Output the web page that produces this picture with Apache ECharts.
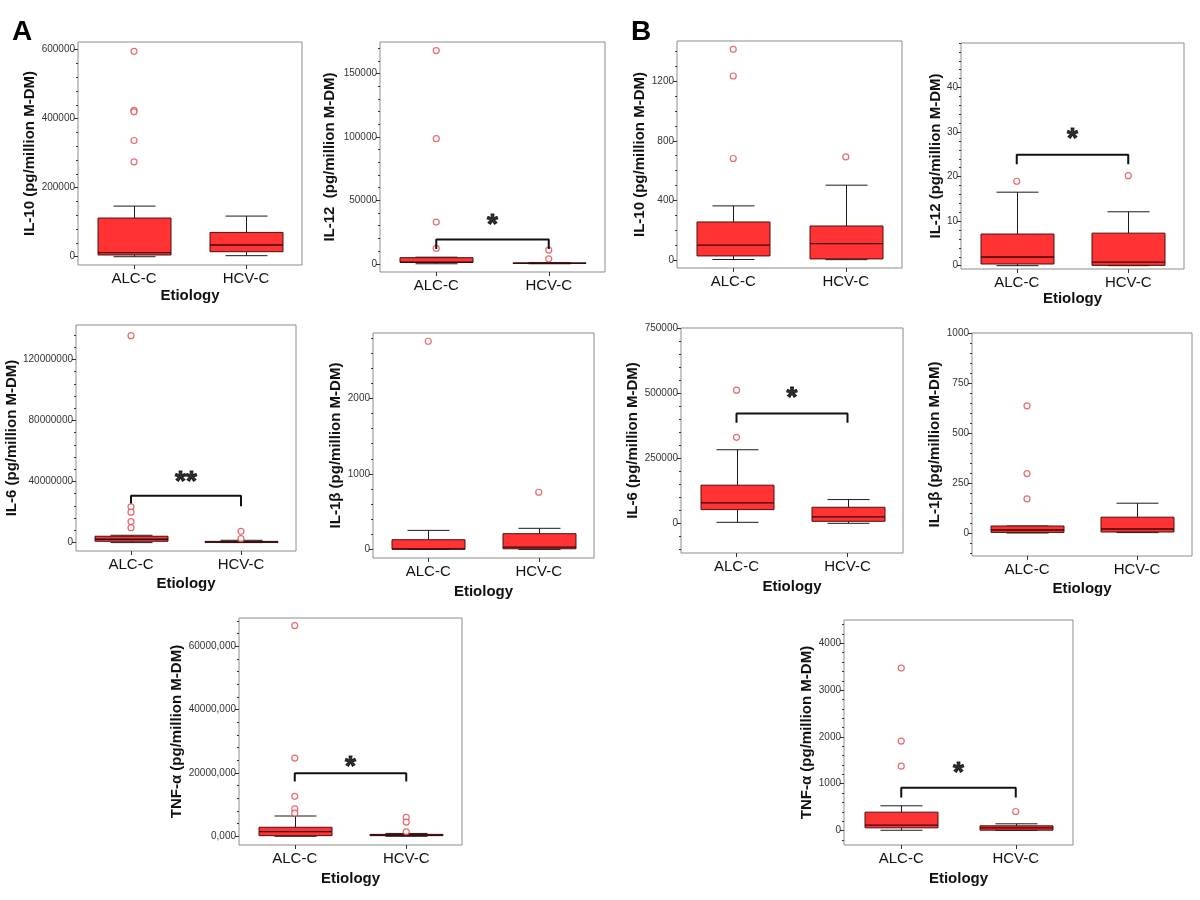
<!DOCTYPE html>
<html><head><meta charset="utf-8">
<script src="https://cdn.jsdelivr.net/npm/echarts@6/dist/echarts.min.js"></script>
<style>html,body{margin:0;padding:0;background:#fff}#c{width:1200px;height:900px}</style>
</head><body><div id="c"></div>
<script>
const categories = ['ALC-C', 'HCV-C'];

// ---- Panel A ----
const aIL10Box = [[0, 5000, 12000, 112000, 146600], [3000, 14500, 34000, 70400, 117700]];
const aIL10OutALC = [595000, 424000, 419600, 336700, 275000];
const aIL10OutHCV = [];
const aIL10Ticks = [0, 200000, 400000, 600000];
const aIL10Labels = ['0', '200000', '400000', '600000'];

const aIL12Box = [[0, 1000, 1300, 4800, 5200], [0, 300, 400, 600, 900]];
const aIL12OutALC = [168200, 98700, 32900, 12100];
const aIL12OutHCV = [10800, 3900];
const aIL12Ticks = [0, 50000, 100000, 150000];
const aIL12Labels = ['0', '50000', '100000', '150000'];
const aIL12Bracket = [11600, 19200, 11600];
const aIL12Star = 37000;

const aIL6Box = [[0, 870000, 2200000, 4150000, 4800000], [0, 200000, 400000, 800000, 1500000]];
const aIL6OutALC = [135500000, 23400000, 19900000, 13800000, 9800000];
const aIL6OutHCV = [7400000, 2600000];
const aIL6Ticks = [0, 40000000, 80000000, 120000000];
const aIL6Labels = ['0', '40000000', '80000000', '120000000'];
const aIL6Bracket = [25600000, 30600000, 23800000];
const aIL6Star = 45000000;

const aIL1bBox = [[0, 2, 8, 128, 252], [0, 8, 31, 208, 279]];
const aIL1bOutALC = [2757];
const aIL1bOutHCV = [757];
const aIL1bTicks = [0, 1000, 2000];
const aIL1bLabels = ['0', '1000', '2000'];

const aTNFBox = [[0, 200000, 1500000, 2850000, 6400000], [0, 200000, 400000, 600000, 900000]];
const aTNFOutALC = [66500000, 24700000, 12600000, 8650000, 7300000];
const aTNFOutHCV = [6000000, 4500000, 1400000];
const aTNFTicks = [0, 20000000, 40000000, 60000000];
const aTNFLabels = ['0,000', '20000,000', '40000,000', '60000,000'];
const aTNFBracket = [17300000, 19900000, 17300000];
const aTNFStar = 24200000;

// ---- Panel B ----
const bIL10Box = [[3, 27, 99, 255, 363], [2, 7, 110, 228, 502]];
const bIL10OutALC = [1414, 1235, 681];
const bIL10OutHCV = [692];
const bIL10Ticks = [0, 400, 800, 1200];
const bIL10Labels = ['0', '400', '800', '1200'];

const bIL12Box = [[0, 0.37, 1.95, 7.1, 16.5], [0, 0.07, 0.8, 7.3, 12.1]];
const bIL12OutALC = [18.95];
const bIL12OutHCV = [20.2];
const bIL12Ticks = [0, 10, 20, 30, 40];
const bIL12Labels = ['0', '10', '20', '30', '40'];
const bIL12Bracket = [22.8, 24.9, 22.8];
const bIL12Star = 30.2;

const bIL6Box = [[5100, 53800, 79500, 147400, 283300], [1300, 9000, 25600, 62800, 92300]];
const bIL6OutALC = [511500, 330800];
const bIL6OutHCV = [];
const bIL6Ticks = [0, 250000, 500000, 750000];
const bIL6Labels = ['0', '250000', '500000', '750000'];
const bIL6Bracket = [387000, 421800, 387000];
const bIL6Star = 511500;

const bIL1bBox = [[0, 3, 15, 35, 35], [2, 5, 20, 79, 149]];
const bIL1bOutALC = [636, 297, 171];
const bIL1bOutHCV = [];
const bIL1bTicks = [0, 250, 500, 750, 1000];
const bIL1bLabels = ['0', '250', '500', '750', '1000'];

const bTNFBox = [[5, 57, 114, 392, 528], [0, 7, 57, 100, 143]];
const bTNFOutALC = [3472, 1911, 1376];
const bTNFOutHCV = [406];
const bTNFTicks = [0, 1000, 2000, 3000, 4000];
const bTNFLabels = ['0', '1000', '2000', '3000', '4000'];
const bTNFBracket = [706, 913, 706];
const bTNFStar = 1398;

// ---- panel assembly (data refs + axis ranges) ----
const panels = [
  {box: aIL10Box, outA: aIL10OutALC, outH: aIL10OutHCV, ticks: aIL10Ticks, labels: aIL10Labels, yName: 'IL-10 (pg/million M-DM)', range: [-24000, 622000], minor: [0, 600000, 40000], etiology: true},
  {box: aIL12Box, outA: aIL12OutALC, outH: aIL12OutHCV, ticks: aIL12Ticks, labels: aIL12Labels, yName: 'IL-12  (pg/million M-DM)', range: [-6500, 175000], minor: [0, 170000, 10000], bracket: aIL12Bracket, star: aIL12Star, starText: '*', etiology: false},
  {box: aIL6Box, outA: aIL6OutALC, outH: aIL6OutHCV, ticks: aIL6Ticks, labels: aIL6Labels, yName: 'IL-6 (pg/million M-DM)', range: [-5500000, 142500000], minor: [0, 136000000, 8000000], bracket: aIL6Bracket, star: aIL6Star, starText: '**', etiology: true},
  {box: aIL1bBox, outA: aIL1bOutALC, outH: aIL1bOutHCV, ticks: aIL1bTicks, labels: aIL1bLabels, yName: 'IL-1β (pg/million M-DM)', range: [-114, 2866], minor: [0, 2800, 200], etiology: true},
  {box: aTNFBox, outA: aTNFOutALC, outH: aTNFOutHCV, ticks: aTNFTicks, labels: aTNFLabels, yName: 'TNF-α (pg/million M-DM)', range: [-2750000, 68900000], minor: [0, 68000000, 4000000], bracket: aTNFBracket, star: aTNFStar, starText: '*', etiology: true},
  {box: bIL10Box, outA: bIL10OutALC, outH: bIL10OutHCV, ticks: bIL10Ticks, labels: bIL10Labels, yName: 'IL-10 (pg/million M-DM)', range: [-54, 1470], minor: [0, 1400, 100], etiology: false},
  {box: bIL12Box, outA: bIL12OutALC, outH: bIL12OutHCV, ticks: bIL12Ticks, labels: bIL12Labels, yName: 'IL-12 (pg/million M-DM)', range: [-0.75, 50], minor: [0, 50, 2], bracket: bIL12Bracket, star: bIL12Star, starText: '*', etiology: true},
  {box: bIL6Box, outA: bIL6OutALC, outH: bIL6OutHCV, ticks: bIL6Ticks, labels: bIL6Labels, yName: 'IL-6 (pg/million M-DM)', range: [-112500, 750000], minor: [-100000, 750000, 50000], bracket: bIL6Bracket, star: bIL6Star, starText: '*', etiology: true},
  {box: bIL1bBox, outA: bIL1bOutALC, outH: bIL1bOutHCV, ticks: bIL1bTicks, labels: bIL1bLabels, yName: 'IL-1β (pg/million M-DM)', range: [-115, 1000], minor: [-100, 1000, 50], etiology: true},
  {box: bTNFBox, outA: bTNFOutALC, outH: bTNFOutHCV, ticks: bTNFTicks, labels: bTNFLabels, yName: 'TNF-α (pg/million M-DM)', range: [-310, 4500], minor: [-200, 4400, 200], bracket: bTNFBracket, star: bTNFStar, starText: '*', etiology: true}
];

// layout: frame [left, top, right, bottom], y-name gap, x-name gap
const layout = [
  {f: [78, 42, 302, 265], yGap: 41, xGap: 23},
  {f: [380, 42, 605, 272], yGap: 43, xGap: 23},
  {f: [76, 325, 296, 551], yGap: 56, xGap: 25},
  {f: [373, 333, 594, 558], yGap: 23, xGap: 26},
  {f: [239, 618, 462, 845], yGap: 52, xGap: 26},
  {f: [677, 41, 902, 268], yGap: 26, xGap: 23},
  {f: [961, 43, 1184, 269], yGap: 16, xGap: 20},
  {f: [681, 328, 903, 553], yGap: 39, xGap: 26},
  {f: [972, 333, 1192, 556], yGap: 28, xGap: 25},
  {f: [844, 620, 1073, 845], yGap: 29, xGap: 26}
];

const FONT = '"Liberation Sans", Arial, Helvetica, sans-serif';
const BOX_HALF = 36.5, CAP_HALF = 21;

function minorValues(spec) {
  const out = [];
  const n = Math.round((spec[1] - spec[0]) / spec[2]);
  for (let k = 0; k <= n; k++) out.push(+(spec[0] + k * spec[2]).toFixed(6));
  return out;
}

function renderBox(params, api) {
  const x = api.value(0);
  const lo = api.coord([x, api.value(1)]);
  const q1 = api.coord([x, api.value(2)]);
  const md = api.coord([x, api.value(3)]);
  const q3 = api.coord([x, api.value(4)]);
  const hi = api.coord([x, api.value(5)]);
  const cx = Math.round(lo[0]) + 0.5;
  const wStyle = {stroke: '#1a1a1a', lineWidth: 1};
  return {type: 'group', children: [
    {type: 'line', shape: {x1: cx, y1: hi[1], x2: cx, y2: q3[1]}, style: wStyle},
    {type: 'line', shape: {x1: cx, y1: lo[1], x2: cx, y2: q1[1]}, style: wStyle},
    {type: 'line', shape: {x1: cx - CAP_HALF, y1: hi[1], x2: cx + CAP_HALF, y2: hi[1]}, style: wStyle},
    {type: 'line', shape: {x1: cx - CAP_HALF, y1: lo[1], x2: cx + CAP_HALF, y2: lo[1]}, style: wStyle},
    {type: 'rect', shape: {x: cx - BOX_HALF, y: q3[1], width: 2 * BOX_HALF, height: Math.max(q1[1] - q3[1], 0.5)},
      style: {fill: '#ff3333', stroke: '#4a1010', lineWidth: 1}},
    {type: 'line', shape: {x1: cx - BOX_HALF, y1: md[1], x2: cx + BOX_HALF, y2: md[1]}, style: {stroke: '#3a0808', lineWidth: 1.3}}
  ]};
}

const grid = [], xAxis = [], yAxis = [], series = [];
panels.forEach((p, i) => {
  const L = layout[i];
  const [l, t, r, b] = L.f;
  grid.push({left: l, top: t, width: r - l, height: b - t, show: true, borderColor: '#8c8c8c', borderWidth: 1, backgroundColor: 'rgba(0,0,0,0)', containLabel: false, outerBoundsMode: 'none'});
  xAxis.push({
    type: 'category', gridIndex: i, data: categories, position: 'bottom',
    axisLine: {show: false, onZero: false},
    axisTick: {show: true, alignWithLabel: true, length: 4, lineStyle: {color: '#333'}},
    axisLabel: {fontSize: 15, color: '#111', margin: 6, fontFamily: FONT},
    splitLine: {show: false},
    name: p.etiology ? 'Etiology' : '', nameLocation: 'middle', nameGap: L.xGap,
    nameTextStyle: {fontSize: 15, fontWeight: 'bold', color: '#111', fontFamily: FONT}
  });
  xAxis.push({type: 'value', gridIndex: i, min: -0.5, max: 1.5, show: false, axisLine: {onZero: false}});
  const labelMap = {};
  p.ticks.forEach((v, k) => { labelMap[v] = p.labels[k]; });
  yAxis.push({
    type: 'value', gridIndex: i, min: p.range[0], max: p.range[1], position: 'left',
    axisLine: {show: false, onZero: false}, splitLine: {show: false},
    axisTick: {show: true, length: 4, lineStyle: {color: '#222'}, customValues: p.ticks},
    axisLabel: {show: true, customValues: p.ticks, formatter: v => labelMap[v] !== undefined ? labelMap[v] : '', fontSize: 10, color: '#333', margin: 3, fontFamily: FONT},
    name: p.yName, nameLocation: 'middle', nameRotate: 90, nameGap: L.yGap,
    nameTextStyle: {fontSize: 15, fontWeight: 'bold', color: '#111', fontFamily: FONT}
  });
  yAxis.push({
    type: 'value', gridIndex: i, min: p.range[0], max: p.range[1], position: 'left',
    axisLine: {show: false, onZero: false}, splitLine: {show: false}, axisLabel: {show: false},
    axisTick: {show: true, length: 2, lineStyle: {color: '#333'}, customValues: minorValues(p.minor)}
  });
  const xi = 2 * i, yi = 2 * i;
  series.push({
    type: 'custom', xAxisIndex: xi, yAxisIndex: yi, renderItem: renderBox,
    encode: {x: 0, y: [1, 2, 3, 4, 5]}, silent: true,
    data: p.box.map((bx, k) => [k].concat(bx)), z: 2
  });
  const outData = p.outA.map(v => [0, v]).concat(p.outH.map(v => [1, v]));
  series.push({
    type: 'scatter', xAxisIndex: xi, yAxisIndex: yi, symbol: 'circle', symbolSize: 6,
    itemStyle: {color: '#ffffff', borderColor: '#e0474c', borderWidth: 1.2}, data: outData, z: 3, silent: true
  });
  if (p.bracket) {
    series.push({
      type: 'line', xAxisIndex: xi + 1, yAxisIndex: yi, symbol: 'none', silent: true, z: 4,
      lineStyle: {color: '#111', width: 2},
      data: [[0, p.bracket[0]], [0, p.bracket[1]], [1, p.bracket[1]], [1, p.bracket[2]]]
    });
    series.push({
      type: 'scatter', xAxisIndex: xi + 1, yAxisIndex: yi, symbolSize: 2, silent: true, z: 5,
      itemStyle: {color: 'rgba(255,255,255,0)'},
      label: {show: true, position: 'inside', formatter: p.starText, fontSize: 28, fontWeight: 'bold', color: '#000',
        textBorderColor: '#000', textBorderWidth: 1, offset: [0, 8], fontFamily: FONT},
      data: [[0.5, p.star]]
    });
  }
});

const chart = echarts.init(document.getElementById('c'), null, {renderer: 'canvas'});
chart.setOption({
  animation: false,
  backgroundColor: '#ffffff',
  textStyle: {fontFamily: FONT},
  grid, xAxis, yAxis, series,
  graphic: [
    {type: 'text', left: 12, top: 18, style: {text: 'A', fill: '#000', font: 'bold 28px ' + FONT}},
    {type: 'text', left: 631, top: 18, style: {text: 'B', fill: '#000', font: 'bold 28px ' + FONT}}
  ]
});
</script></body></html>
